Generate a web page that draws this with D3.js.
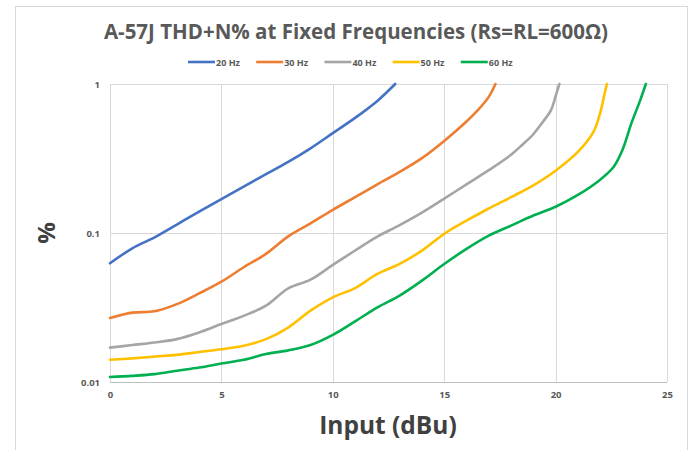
<!DOCTYPE html>
<html><head><meta charset="utf-8">
<script src="https://cdn.jsdelivr.net/npm/d3@7"></script>
<style>body{margin:0;background:#fff;} svg{display:block;font-family:"Open Sans","Liberation Sans",sans-serif;}</style>
</head><body>
<svg id="c" width="694" height="450"></svg>
<script>
const title = "A-57J THD+N% at Fixed Frequencies (Rs=RL=600Ω)";
const seriesNames = ["20 Hz","30 Hz","40 Hz","50 Hz","60 Hz"];
const seriesColors = ["#4472C4","#ED7D31","#A5A5A5","#FFC000","#00B050"];
const xTicks = [0,5,10,15,20,25];
const yTicks = [0.01,0.1,1];
const yTickLabels = ["0.01","0.1","1"];

const s20x = [0,1,2,3,4,5,6,7,8,9,10,11,12,12.8];
const s20y = [0.0626,0.079,0.0935,0.114,0.139,0.169,0.205,0.248,0.300,0.370,0.468,0.592,0.77,1];
const s30x = [0,1,2,3,4,5,6,7,8,9,10,11,12,13,14,15,16,16.5,17,17.3];
const s30y = [0.0269,0.0292,0.0298,0.0333,0.0393,0.0471,0.0589,0.0724,0.095,0.116,0.143,0.174,0.212,0.257,0.318,0.415,0.56,0.665,0.82,1];
const s40x = [0,1,2,3,4,5,6,7,8,9,10,11,12,13,14,15,16,17,18,18.5,19,19.4,19.8,20,20.17];
const s40y = [0.0170,0.0177,0.0184,0.0194,0.0215,0.0245,0.0278,0.0325,0.0425,0.0486,0.0611,0.0763,0.0946,0.113,0.137,0.170,0.212,0.264,0.335,0.39,0.46,0.55,0.67,0.83,1];
const s50x = [0,1,2,3,4,5,6,7,8,9,10,11,12,13,14,15,16,17,18,19,20,21,21.7,22,22.2,22.3];
const s50y = [0.0141,0.0144,0.0148,0.0152,0.0159,0.0166,0.0175,0.0194,0.0232,0.0301,0.0370,0.0427,0.0531,0.062,0.0762,0.0987,0.121,0.146,0.174,0.209,0.262,0.350,0.477,0.64,0.86,1];
const s60x = [0,1,2,3,4,5,6,7,8,9,10,11,12,13,14,15,16,17,18,19,20,21,22,22.6,23,23.4,23.8,24.05];
const s60y = [0.0108,0.0110,0.0113,0.0119,0.0125,0.0133,0.0141,0.0154,0.0163,0.0177,0.0207,0.0255,0.0317,0.038,0.0479,0.0619,0.0782,0.096,0.112,0.131,0.150,0.180,0.228,0.277,0.36,0.544,0.78,1];
const seriesX = [s20x,s30x,s40x,s50x,s60x];
const seriesY = [s20y,s30y,s40y,s50y,s60y];

const svg = d3.select("#c");
const grey = "#595959";
const L=110,R=667,T=84,B=382;
const x = d3.scaleLinear().domain([0,25]).range([L,R]);
const y = d3.scaleLog().domain([0.01,1]).range([B,T]);

// outer frame
svg.append("rect").attr("x",15.5).attr("y",6.5).attr("width",672).attr("height",460)
  .attr("fill","none").attr("stroke","#d9d9d9").attr("stroke-width",1);

// gridlines
const g = svg.append("g");
g.selectAll(".vg").data(xTicks.slice(1)).join("line")
  .attr("x1",d=>Math.round(x(d))+0.5).attr("x2",d=>Math.round(x(d))+0.5)
  .attr("y1",T).attr("y2",B).attr("stroke","#d9d9d9");
g.selectAll(".hg").data(yTicks.slice(1)).join("line")
  .attr("y1",d=>Math.round(y(d))+0.5).attr("y2",d=>Math.round(y(d))+0.5)
  .attr("x1",L).attr("x2",R).attr("stroke","#d9d9d9");
g.append("line").attr("x1",L+0.5).attr("x2",L+0.5).attr("y1",T).attr("y2",B).attr("stroke","#d9d9d9");
g.append("line").attr("x1",L).attr("x2",R).attr("y1",B+0.5).attr("y2",B+0.5).attr("stroke","#bfbfbf");

// axes labels via d3 axes
const xa = svg.append("g").attr("transform",`translate(0,${B})`)
  .call(d3.axisBottom(x).tickValues(xTicks).tickSize(0).tickPadding(9).tickFormat(d3.format("d")));
xa.select(".domain").remove();
const ya = svg.append("g").attr("transform",`translate(${L},0)`)
  .call(d3.axisLeft(y).tickValues(yTicks).tickSize(0).tickPadding(10).tickFormat((d,i)=>yTickLabels[i]));
ya.select(".domain").remove();
svg.selectAll(".tick text").attr("fill",grey).attr("font-size",9.5).attr("font-weight","bold")
  .attr("font-family","'Open Sans',sans-serif");

// lines
const line = d3.line().x(d=>x(d[0])).y(d=>y(d[1])).curve(d3.curveCatmullRom.alpha(0.5));
seriesNames.forEach((n,i)=>{
  const pts = seriesX[i].map((v,j)=>[v,seriesY[i][j]]);
  svg.append("path").attr("d",line(pts)).attr("fill","none")
    .attr("stroke",seriesColors[i]).attr("stroke-width",2.6).attr("stroke-linecap","round");
});

// title
svg.append("text").attr("x",356).attr("y",39).attr("text-anchor","middle")
  .attr("font-size",20.5).attr("font-weight","bold").attr("fill",grey).text(title);

// legend
const lg = svg.append("g");
seriesNames.forEach((n,i)=>{
  const lx = 188 + i*68.2;
  lg.append("line").attr("x1",lx).attr("x2",lx+27).attr("y1",62).attr("y2",62)
    .attr("stroke",seriesColors[i]).attr("stroke-width",2.6);
  lg.append("text").attr("x",lx+28).attr("y",65.5).attr("font-size",9).attr("font-weight","bold")
    .attr("fill",grey).text(n);
});

// axis titles
svg.append("text").attr("x",388).attr("y",434).attr("text-anchor","middle")
  .attr("font-size",24.5).attr("font-weight","bold").attr("fill","#404040").text("Input (dBu)");
svg.append("text").attr("transform","translate(55,233) rotate(-90)").attr("text-anchor","middle")
  .attr("font-size",24).attr("font-weight","bold").attr("fill","#404040").text("%");
</script>
</body></html>
